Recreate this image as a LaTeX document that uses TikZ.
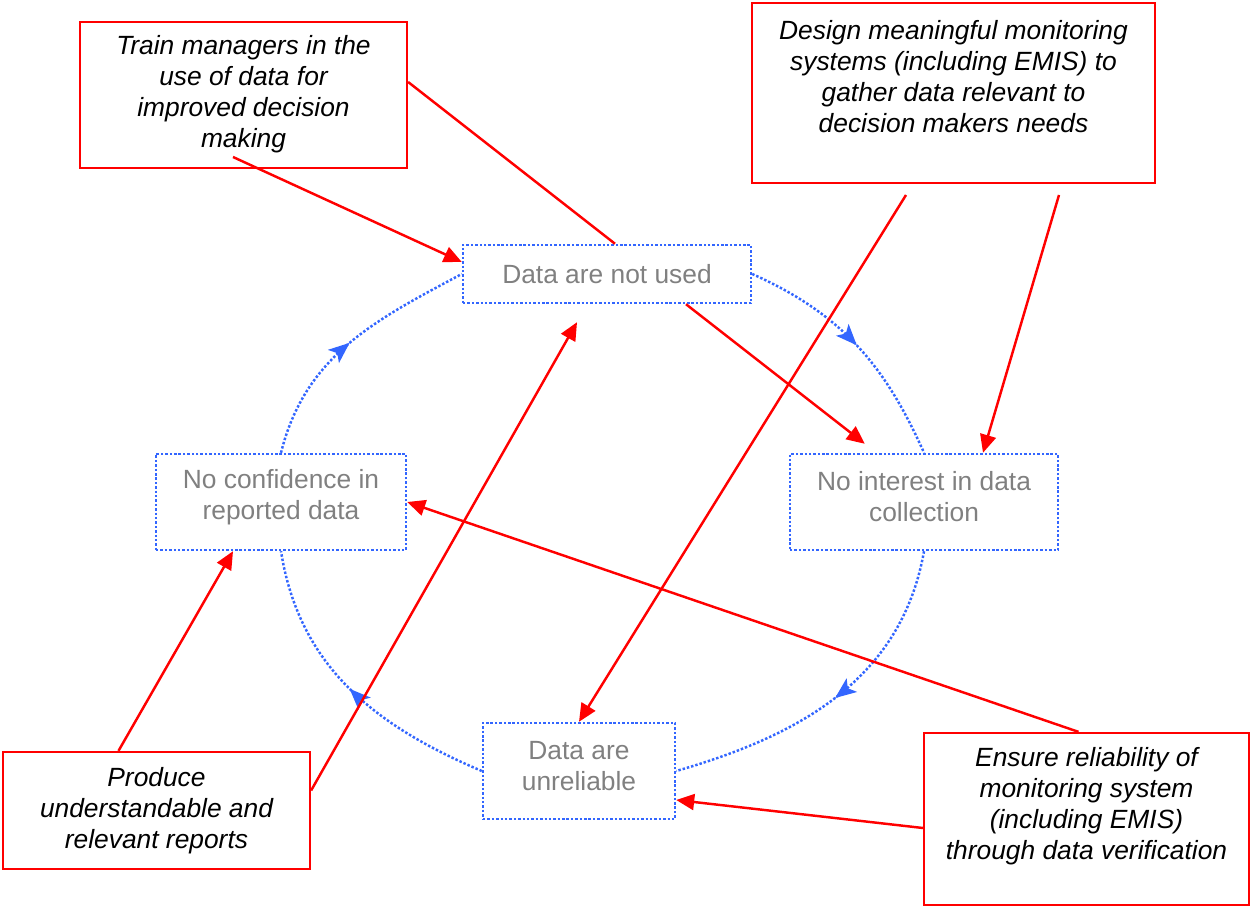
\documentclass[tikz,border=0pt]{standalone}
\usepackage{fontspec}
\setmainfont{Liberation Sans}
\usepackage{tikz}
\usetikzlibrary{arrows.meta,positioning,calc,decorations.markings}
\definecolor{CycleBlue}{HTML}{3366FF}
\definecolor{ActRed}{HTML}{FF0000}
\definecolor{ProblemGray}{HTML}{808080}

\begin{document}
\begin{tikzpicture}[x=0.02cm, y=0.02cm,
  every node/.style={font=\fontsize{15}{17.6}\selectfont, align=center},
  problem/.style={draw=CycleBlue, line width=1.4pt, dash pattern=on 1.4pt off 1.1pt, text=ProblemGray, inner sep=0pt},
  problemtext/.style={text=ProblemGray},
  action/.style={draw=ActRed, line width=1.3pt, inner sep=0pt},
  actiontext/.style={font=\fontsize{15}{17.6}\selectfont\itshape},
  loopline/.style={CycleBlue, line width=1.4pt, dash pattern=on 1.4pt off 1.1pt, postaction={decorate},
    decoration={markings, mark=at position 0.5 with {\arrow{Stealth[length=0.42cm,width=0.34cm,inset=0.1cm]}}}},
  fixline/.style={ActRed, line width=1.4pt},
  fixarrow/.style={fixline, -{Triangle[length=0.36cm,width=0.32cm]}}]
  \useasboundingbox (0,0) rectangle (1251,906);
  % the vicious circle
  \node[problem, minimum width=5.76cm, minimum height=1.16cm] (notused) at (607,632) {Data are not used};
  \node[problem, minimum width=5.36cm, minimum height=1.92cm] (nointerest) at (924,404) {};
  \node[problemtext] (nointeresttext) at ($(nointerest)+(0,5)$) {No interest in data\\collection};
  \node[problem, minimum width=5cm, minimum height=1.92cm] (noconf) at (281,404) {};
  \node[problemtext] (noconftext) at ($(noconf)+(0,5)$) {No confidence in\\reported data};
  \node[problem, minimum width=3.84cm, minimum height=1.92cm] (unreliable) at (579,135) {};
  \node[problemtext] (unreliabletext) at ($(unreliable)+(0,5)$) {Data are\\unreliable};
  \draw[loopline] (notused.east) to[out=-24, in=114] (nointerest.north);
  \draw[loopline] (nointerest.south) to[out=-100, in=16] (unreliable.east);
  \draw[loopline] (unreliable.west) to[out=157, in=-81] (noconf.south);
  \draw[loopline] (noconf.north) to[out=76, in=208] (notused.west);
  % the actions
  \node[action, minimum width=6.54cm, minimum height=2.92cm] (train) at (243.5,811) {};
  \node[actiontext] (traintext) at ($(train)+(0,1)$) {Train managers in the\\use of data for\\improved decision\\making};
  \node[action, minimum width=8.06cm, minimum height=3.6cm] (design) at (953.5,813) {};
  \node[actiontext] (designtext) at ($(design)+(0,16.5)$) {Design meaningful monitoring\\systems (including EMIS) to\\gather data relevant to\\decision makers needs};
  \node[action, minimum width=6.14cm, minimum height=2.34cm] (produce) at (156.5,95.5) {};
  \node[actiontext] (producetext) at (produce) {Produce\\understandable and\\relevant reports};
  \node[action, minimum width=6.5cm, minimum height=3.44cm] (ensure) at (1086.5,87) {};
  \node[actiontext] (ensuretext) at ($(ensure)+(0,13)$) {Ensure reliability of\\monitoring system\\(including EMIS)\\through data verification};
  \coordinate (trainfoot) at (233,749);
  \coordinate (designfootA) at (906,711);
  \coordinate (designfootB) at (1059,711);
  \draw[fixarrow] (trainfoot) -- ($(notused.west)+(0,12)$);
  \draw[fixline] ($(train.east)+(0,13)$) -- ($(notused.north)+(8,0)$);
  \draw[fixarrow] ($(notused.south)+(79,0)$) -- ($(nointerest.north west)+(76,9)$);
  \draw[fixarrow] (designfootA) -- (unreliable.north);
  \draw[fixarrow] (designfootB) -- ($(nointerest.north)+(59,0)$);
  \draw[fixarrow] ($(ensure.north)+(-8,0)$) -- (noconf.east);
  \draw[fixarrow] ($(ensure.west)+(0,-9)$) -- ($(unreliable.east)+(0,-29)$);
  \draw[fixarrow] ($(produce.north)+(-38,0)$) -- ($(noconf.south)+(-48,0)$);
  \draw[fixarrow] ($(produce.east)+(0,20)$) -- ($(notused.south)+(-30,-18)$);
\end{tikzpicture}
\end{document}
